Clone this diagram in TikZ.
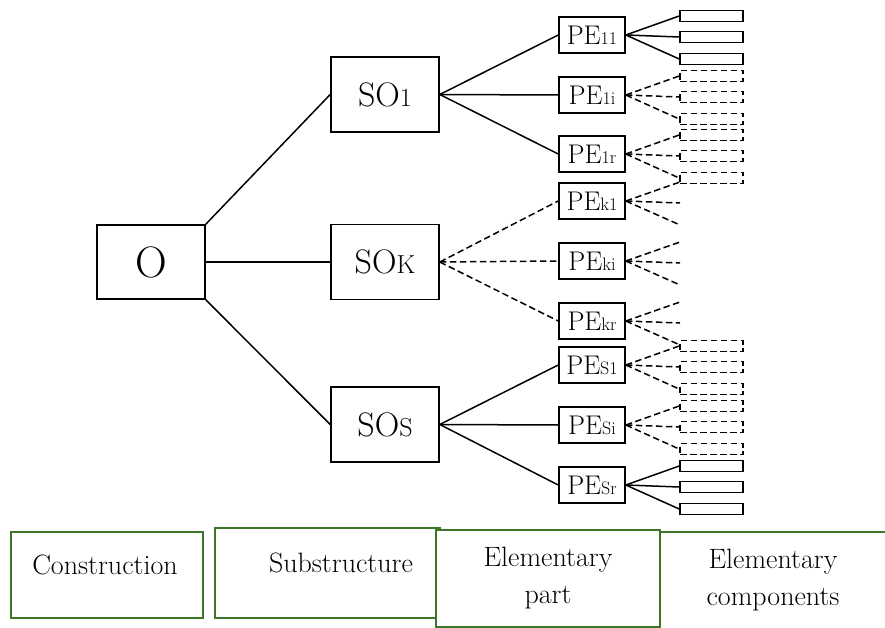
\documentclass[tikz,border=0pt]{standalone}
\usepackage{xcolor}
\usepackage{tikz}
\usetikzlibrary{positioning, calc}
\definecolor{legendgreen}{RGB}{62,118,40}
\newcommand{\pesub}[1]{{\fontsize{18}{18}\selectfont #1}}
\newcommand{\sosub}[1]{{\fontsize{26}{26}\selectfont #1}}

\tikzset{
	obox/.style={draw, line width=1.6pt, minimum width=108pt, minimum height=74pt, inner sep=0pt, font=\fontsize{44}{44}\selectfont},
	sobox/.style={draw, line width=1.6pt, minimum width=108pt, minimum height=75pt, inner sep=0pt, font=\fontsize{34}{34}\selectfont},
	pebox/.style={draw, line width=1.6pt, minimum width=66pt, minimum height=36pt, inner sep=0pt, font=\fontsize{27}{27}\selectfont},
	compbox/.style={draw, line width=1.6pt, minimum width=63pt, minimum height=11pt, inner sep=0pt},
	link/.style={line width=1.5pt},
	dlink/.style={line width=1.5pt, dash pattern=on 6.5pt off 3.5pt},
	legend/.style={draw=legendgreen, line width=1.6pt, fill=white},
	legendtext/.style={font=\fontsize{28}{37}\selectfont, align=center},
}

\begin{document}
\begin{tikzpicture}[x=1pt, y=-1pt]

	\useasboundingbox (0,0) rectangle (885,628);

	% construction and substructures
	\node[obox] (O) at (151,262) {O};
	\node[sobox] (SO1) at (385,94.5) {SO\sosub{1}};
	\node[sobox] (SOk) at (385,262) {SO\sosub{K}};
	\node[sobox] (SOs) at (385,424.5) {SO\sosub{S}};

	\draw[link] (O.north east) -- (SO1.west);
	\draw[link] (O.east) -- (SOk.west);
	\draw[link] (O.south east) -- (SOs.west);

	% elementary parts
	\foreach \pe/\y in {11/35, 1i/95, 1r/154, k1/201, ki/261, kr/321, S1/365, Si/425, Sr/485}
		\node[pebox] (PE\pe) at (592,\y) {PE\pesub{\pe}};

	\foreach \pe in {11, 1i, 1r}
		\draw[link] (SO1.east) -- (PE\pe.west);
	\foreach \pe in {k1, ki, kr}
		\draw[dlink] (SOk.east) -- (PE\pe.west);
	\foreach \pe in {S1, Si, Sr}
		\draw[link] (SOs.east) -- (PE\pe.west);

	% elementary components (solid, dashed, open ends)
	\foreach \pe/\y in {11/35, Sr/485}
		\foreach \j/\off in {1/-19, 2/2, 3/24} {
			\node[compbox] (C\pe-\j) at (711.5,{\y+(\off)}) {};
			\draw[link] (PE\pe.east) -- (C\pe-\j.west);
		}
	\foreach \pe/\y in {1i/95, 1r/154, S1/365, Si/425}
		\foreach \j/\off in {1/-19, 2/2, 3/24} {
			\node[compbox, dash pattern=on 6.5pt off 3.5pt] (C\pe-\j) at (711.5,{\y+(\off)}) {};
			\draw[dlink] (PE\pe.east) -- (C\pe-\j.west);
		}
	\foreach \pe/\y in {k1/201, ki/261, kr/321}
		\foreach \j/\off in {1/-19, 2/2, 3/24} {
			\coordinate (E\pe-\j) at (680,{\y+(\off)});
			\draw[dlink] (PE\pe.east) -- (E\pe-\j);
		}

	% legend row
	\draw[legend] (11,532) rectangle (203,618);
	\draw[legend] (215,528) rectangle (440,618);
	\draw[legend] (436,530) rectangle (660,627);
	\draw[legendgreen, line width=1.6pt] (660,532) -- (885,532);

	\node[legendtext] (lcons) at (105,565) {Construction};
	\node[legendtext] (lsub) at (341,563) {Substructure};
	\node[legendtext] (lpart) at (548,578) {Elementary\\part};
	\node[legendtext] (lcomp) at (773,580) {Elementary\\components};

\end{tikzpicture}
\end{document}
